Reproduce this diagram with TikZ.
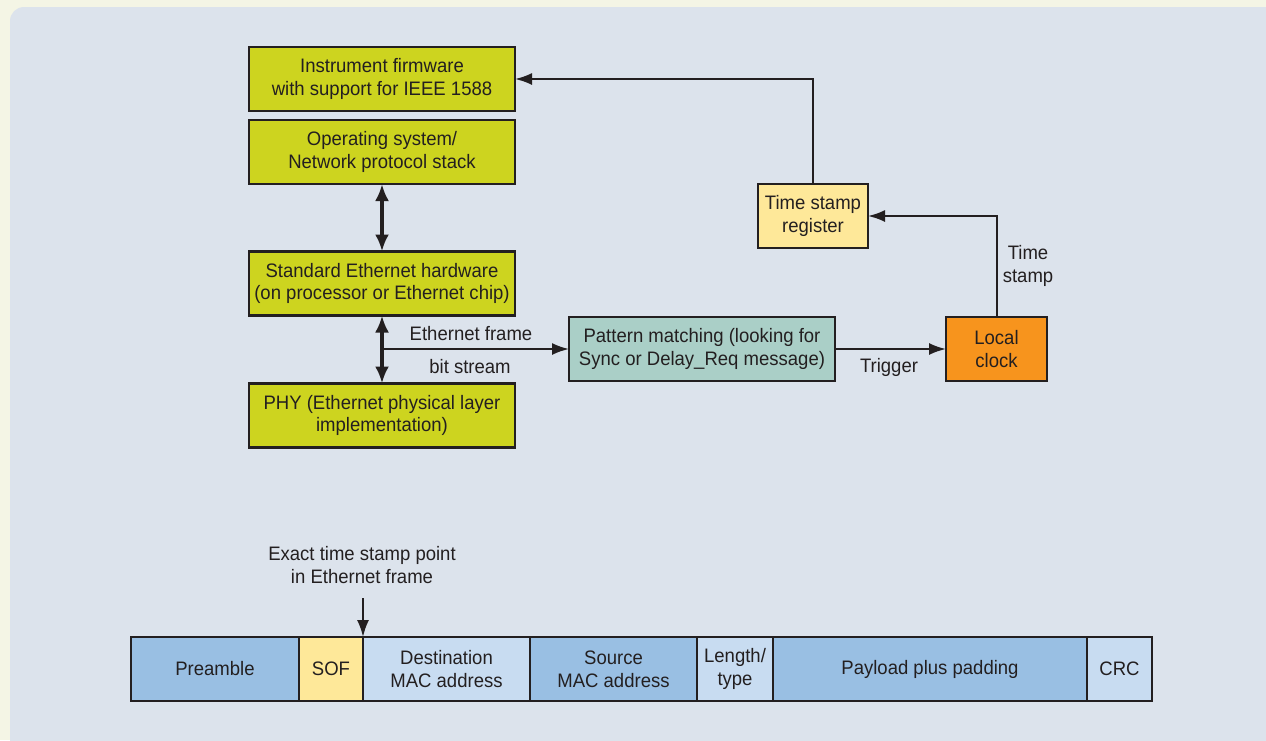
\documentclass[tikz,border=0pt]{standalone}
\usepackage{fontspec}
\setmainfont{Liberation Sans}[FakeStretch=0.95]
\usetikzlibrary{arrows.meta}
\definecolor{cream}{HTML}{F4F5E5}
\definecolor{panel}{HTML}{DCE3EC}
\definecolor{ink}{HTML}{231F20}
\definecolor{lime}{HTML}{CDD41F}
\definecolor{teal}{HTML}{AACFC7}
\definecolor{orangec}{HTML}{F7941D}
\definecolor{paleyellow}{HTML}{FEE899}
\definecolor{midblue}{HTML}{99BFE3}
\definecolor{lightblue}{HTML}{C8DCF1}
\newcommand{\diafont}{\fontsize{19.5}{22.7}\selectfont}
\tikzset{
  box/.style={draw=ink, line width=2.5pt, align=center, inner sep=0pt, outer sep=0pt, text=ink, font=\diafont},
  gbox/.style={box, fill=lime, minimum width=266pt, minimum height=64pt},
  cell/.style={box, minimum height=64pt},
  lbl/.style={text=ink, font=\diafont, align=center, inner sep=0pt},
  conn/.style={draw=ink, line width=2pt, -{Latex[length=17pt,width=12pt]}},
  dbl/.style={draw=ink, line width=4pt, {Latex[length=17pt,width=14pt]}-{Latex[length=17pt,width=14pt]}}
}
\begin{document}
\begin{tikzpicture}[x=1pt,y=-1pt]
\useasboundingbox (0,0) rectangle (1266,740);
\fill[cream] (0,0) rectangle (1266,740);
\begin{scope}
\clip (0,0) rectangle (1266,740);
\fill[panel, rounded corners=14pt] (10,7) rectangle (1290,760);
\end{scope}

% upper stack
\node[gbox] (fw) at (382,79) {Instrument firmware\\with support for IEEE 1588};
\node[gbox] (os) at (382,152) {Operating system/\\Network protocol stack};
\node[gbox] (eth) at (382,283.5) {Standard Ethernet hardware\\(on processor or Ethernet chip)};
\node[gbox] (phy) at (382,415.5) {PHY (Ethernet physical layer\\implementation)};

\node[box, fill=teal, minimum width=266pt, minimum height=64pt] (pm) at (702,349) {Pattern matching (looking for\\Sync or Delay\_Req message)};
\node[box, fill=orangec, minimum width=101pt, minimum height=64pt] (lc) at (996.5,349) {Local\\clock};
\node[box, fill=paleyellow, minimum width=110pt, minimum height=64pt] (tsr) at (813,216) {Time stamp\\register};

\draw[dbl] (os.south) -- (eth.north);
\draw[dbl] (eth.south) -- (phy.north);
\coordinate (tap) at (382,349);
\draw[conn] (tap) -- (pm.west);
\draw[conn] (pm.east) -- (lc.west);
\draw[conn] (lc.north) |- (tsr.east);
\draw[conn] (tsr.north) |- (fw.east);

\node[lbl] (lef) at (471,334) {Ethernet frame};
\node[lbl] (lbs) at (470,367) {bit stream};
\node[lbl] (ltr) at (889,367) {Trigger};
\node[lbl] (lts) at (1028,266) {Time\\stamp};

% frame
\node[cell, fill=midblue, minimum width=168pt] (pre) at (215,669) {Preamble};
\node[cell, fill=paleyellow, minimum width=64pt] (sof) at (331,669) {SOF};
\node[cell, fill=lightblue, minimum width=167pt] (dst) at (446.5,669) {Destination\\MAC address};
\node[cell, fill=midblue, minimum width=167pt] (src) at (613.5,669) {Source\\MAC address};
\node[cell, fill=lightblue, minimum width=76pt] (len) at (735,669) {Length/\\type};
\node[cell, fill=midblue, minimum width=314pt] (pay) at (930,669) {Payload plus padding};
\node[cell, fill=lightblue, minimum width=65pt] (crc) at (1119.5,669) {CRC};

\node[lbl] (lex) at (362,565) {Exact time stamp point\\in Ethernet frame};
\coordinate (exs) at (363,598);
\draw[conn] (exs) -- (sof.north east);
\end{tikzpicture}
\end{document}
